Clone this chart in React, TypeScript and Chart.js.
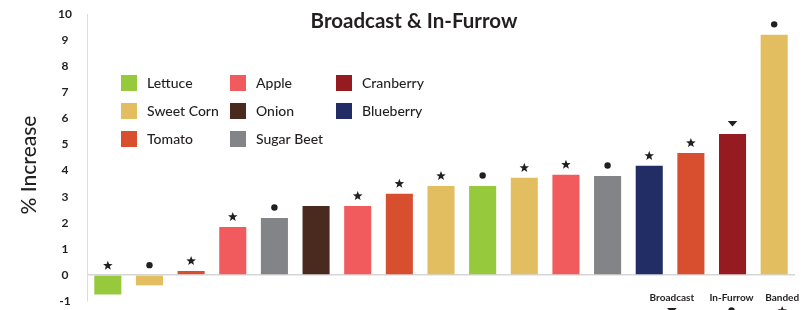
import { useEffect, useRef } from 'react';
import { Chart, registerables } from 'chart.js';

Chart.register(...registerables);

const titleText = 'Broadcast & In-Furrow';
const yTitle = '% Increase';
const crops = ['Lettuce', 'Sweet Corn', 'Tomato', 'Apple', 'Sugar Beet', 'Onion', 'Apple', 'Tomato', 'Sweet Corn', 'Lettuce', 'Sweet Corn', 'Apple', 'Sugar Beet', 'Blueberry', 'Tomato', 'Cranberry', 'Sweet Corn'];
const values = [-0.75, -0.4, 0.15, 1.84, 2.18, 2.64, 2.64, 3.11, 3.41, 3.41, 3.72, 3.84, 3.79, 4.18, 4.67, 5.4, 9.2];
const markers = ['star', 'circle', 'star', 'star', 'circle', '', 'star', 'star', 'star', 'circle', 'star', 'star', 'circle', 'star', 'star', 'triangle', 'circle'];
const legendColumns = [
  ['Lettuce', 'Sweet Corn', 'Tomato'],
  ['Apple', 'Onion', 'Sugar Beet'],
  ['Cranberry', 'Blueberry'],
];
const cropColors: Record<string, string> = {
  Lettuce: '#97c93d',
  'Sweet Corn': '#e2be60',
  Tomato: '#d84f30',
  Apple: '#f15b5e',
  Onion: '#4a2a1f',
  'Sugar Beet': '#838488',
  Cranberry: '#961b20',
  Blueberry: '#212d64',
};
const methodLabels = ['Broadcast', 'In-Furrow', 'Banded'];
const methodMarkers = ['triangle', 'circle', 'star'];
const methodBars = [14, 15, 16];
const methodOffsets = [-19, -1, 8];

const FONT = 'Lato, "Noto Sans", sans-serif';
const INK = '#231f20';

function drawMarker(ctx: CanvasRenderingContext2D, kind: string, x: number, y: number) {
  ctx.save();
  ctx.fillStyle = INK;
  ctx.beginPath();
  if (kind === 'star') {
    const R = 5, r = 2.1;
    for (let i = 0; i < 10; i++) {
      const rad = i % 2 === 0 ? R : r;
      const a = -Math.PI / 2 + (i * Math.PI) / 5;
      const px = x + rad * Math.cos(a);
      const py = y + 0.5 + rad * Math.sin(a);
      if (i === 0) ctx.moveTo(px, py); else ctx.lineTo(px, py);
    }
    ctx.closePath();
  } else if (kind === 'circle') {
    ctx.arc(x, y, 3.2, 0, Math.PI * 2);
  } else if (kind === 'triangle') {
    ctx.moveTo(x - 4.8, y - 2.5);
    ctx.lineTo(x + 4.8, y - 2.5);
    ctx.lineTo(x, y + 3);
    ctx.closePath();
  }
  ctx.fill();
  ctx.restore();
}

const overlayPlugin = {
  id: 'overlay',
  afterDatasetsDraw(chart: any) {
    const ctx = chart.ctx as CanvasRenderingContext2D;
    const meta = chart.getDatasetMeta(0);
    meta.data.forEach((bar: any, i: number) => {
      const top = Math.min(bar.y, bar.base);
      if (markers[i]) drawMarker(ctx, markers[i], bar.x, top - 10.5);
    });
  },
  afterDraw(chart: any) {
    const ctx = chart.ctx as CanvasRenderingContext2D;
    const area = chart.chartArea;
    ctx.save();
    // title
    ctx.fillStyle = INK;
    ctx.font = `bold 20.5px ${FONT}`;
    ctx.textAlign = 'center';
    ctx.textBaseline = 'middle';
    ctx.fillText(titleText, 414, 21);

    // y title
    ctx.save();
    ctx.translate(29, 165);
    ctx.rotate(-Math.PI / 2);
    ctx.font = `500 21px ${FONT}`;
    ctx.fillText(yTitle, 0, 0);
    ctx.restore();

    // legend
    const colX = [34, 143, 249];
    ctx.font = `500 14px ${FONT}`;
    ctx.textAlign = 'left';
    legendColumns.forEach((col, c) => {
      col.forEach((name, r) => {
        const x = area.left + colX[c];
        const y = area.top + 61 + r * 28;
        ctx.fillStyle = cropColors[name];
        ctx.fillRect(x, y, 16, 16);
        ctx.fillStyle = INK;
        ctx.fillText(name, x + 26, y + 8.5);
      });
    });

    // method legend under last bars
    const meta = chart.getDatasetMeta(0);
    ctx.textAlign = 'center';
    ctx.font = `bold 10px ${FONT}`;
    methodLabels.forEach((label, k) => {
      const bar = meta.data[methodBars[k]];
      const x = bar.x + methodOffsets[k];
      ctx.fillStyle = INK;
      ctx.fillText(label, x, 298);
      drawMarker(ctx, methodMarkers[k], x, 310.5);
    });
    ctx.restore();
  },
};

export default function App() {
  const canvasRef = useRef<HTMLCanvasElement | null>(null);

  useEffect(() => {
    const canvas = canvasRef.current;
    if (!canvas) return;
    const chart = new Chart(canvas, {
      type: 'bar',
      data: {
        labels: crops.map((c, i) => `${c} ${i + 1}`),
        datasets: [
          {
            data: values,
            backgroundColor: crops.map((c) => cropColors[c]),
            barPercentage: 0.65,
            categoryPercentage: 1,
            borderWidth: 0,
          },
        ],
      },
      options: {
        responsive: false,
        animation: false,
        layout: { padding: { left: 0, right: 15, top: 14, bottom: 9 } },
        plugins: {
          legend: { display: false },
          title: { display: false },
          tooltip: { enabled: false },
        },
        scales: {
          x: { display: false },
          y: {
            min: -1,
            max: 10,
            afterFit: (s: any) => {
              s.width = 87;
              s.paddingTop = 0;
              s.paddingBottom = 0;
            },
            ticks: {
              stepSize: 1,
              padding: 15,
              crossAlign: 'center',
              color: '#231f20',
              font: { family: FONT, weight: 'bold', size: 12 },
            },
            grid: {
              drawTicks: false,
              color: (c: any) => (c.tick && c.tick.value === 0 ? '#d6d6d6' : 'rgba(0,0,0,0)'),
              lineWidth: 1.5,
            },
            border: { color: '#dcdcdc', width: 1 },
          },
        },
      },
      plugins: [overlayPlugin],
    });
    return () => chart.destroy();
  }, []);

  return (
    <div style={{ position: 'fixed', left: 0, top: 0, width: 810, height: 310, background: '#fff' }}>
      <canvas ref={canvasRef} width={810} height={310} />
    </div>
  );
}
